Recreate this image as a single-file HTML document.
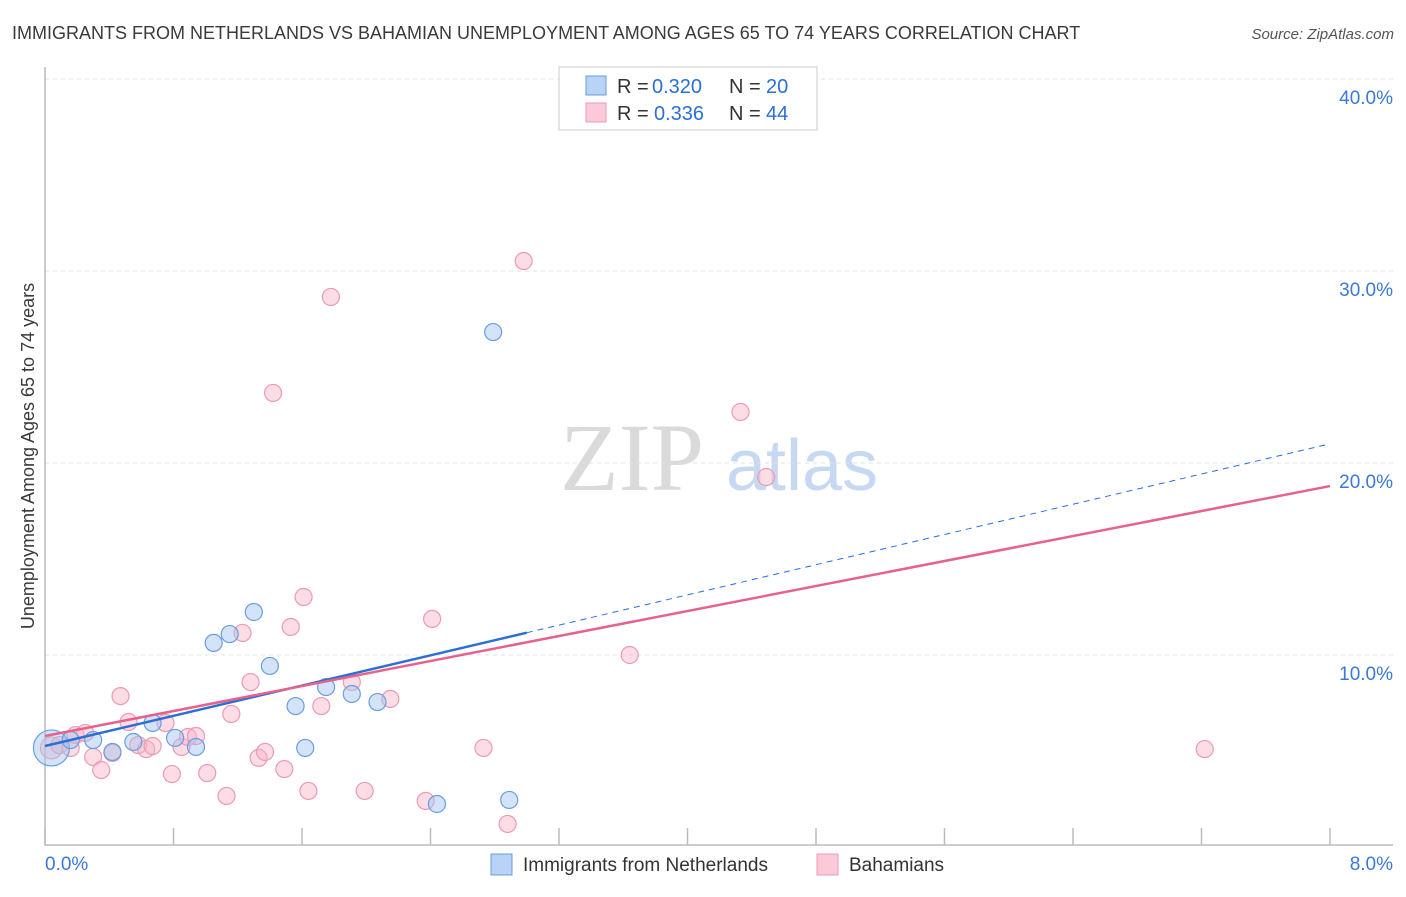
<!DOCTYPE html>
<html><head><meta charset="utf-8"><style>
body{margin:0;background:#fff;font-family:"Liberation Sans",sans-serif;}
svg text{font-family:"Liberation Sans",sans-serif;}
</style></head><body>
<svg id="chart" width="1406" height="892" xmlns="http://www.w3.org/2000/svg">
<text x="12" y="39" font-size="18" fill="#3a3a3a">IMMIGRANTS FROM NETHERLANDS VS BAHAMIAN UNEMPLOYMENT AMONG AGES 65 TO 74 YEARS CORRELATION CHART</text>
<text x="1394" y="39" font-size="15" fill="#555" text-anchor="end" font-style="italic">Source: ZipAtlas.com</text>
<g>
<text x="632" y="490" font-size="96" fill="#dadada" text-anchor="middle" style="font-family:'Liberation Serif',serif">ZIP</text>
<text x="802" y="490" font-size="72" fill="#c7d9f2" text-anchor="middle">atlas</text>
</g>
<g id="grid"></g>
<g id="axes"></g>
<g id="marks"></g>
<text transform="translate(34,456) rotate(-90)" font-size="18" fill="#3a3a3a" text-anchor="middle">Unemployment Among Ages 65 to 74 years</text>
<g>
<rect x="559" y="67" width="258" height="63" fill="#fff" stroke="#ccc"/>
<rect x="586" y="76" width="20" height="19" fill="#b8d3f5" stroke="#6a9de0"/>
<text x="617" y="93" font-size="20" fill="#333">R =</text>
<text x="652" y="93" font-size="20" fill="#2a6fd6">0.320</text>
<text x="729" y="93" font-size="20" fill="#333">N =</text>
<text x="766" y="93" font-size="20" fill="#2a6fd6">20</text>
<rect x="586" y="103" width="20" height="19" fill="#fbc9d7" stroke="#eb9ab5"/>
<text x="617" y="120" font-size="20" fill="#333">R =</text>
<text x="654" y="120" font-size="20" fill="#2a6fd6">0.336</text>
<text x="729" y="120" font-size="20" fill="#333">N =</text>
<text x="766" y="120" font-size="20" fill="#2a6fd6">44</text>
</g>
<g>
<rect x="491" y="854" width="21" height="21" fill="#b8d3f5" stroke="#6a9de0"/>
<text x="523" y="871" font-size="19" fill="#333">Immigrants from Netherlands</text>
<rect x="817" y="854" width="21" height="21" fill="#fbc9d7" stroke="#eb9ab5"/>
<text x="849" y="871" font-size="19" fill="#333">Bahamians</text>
</g>
</svg>
<script>
const xTicks=[0,0.8,1.6,2.4,3.2,4,4.8,5.6,6.4,7.2,8];
const yTicks=[10,20,30,40];
const xTickLabels=["0.0%","8.0%"];
const blueX=[0.04,0.16,0.30,0.42,0.55,0.67,0.81,0.94,1.05,1.15,1.30,1.40,1.56,1.62,1.75,1.91,2.07,2.44,2.79,2.89];
const blueY=[5.16,5.57,5.57,4.95,5.47,6.46,5.68,5.21,10.63,11.09,12.24,9.43,7.34,5.16,8.33,7.97,7.55,2.24,26.82,2.45];
const pinkX=[0.04,0.09,0.16,0.19,0.25,0.30,0.35,0.42,0.47,0.52,0.58,0.63,0.67,0.75,0.79,0.85,0.89,0.94,1.01,1.13,1.16,1.23,1.28,1.33,1.37,1.42,1.49,1.53,1.61,1.64,1.72,1.78,1.91,1.99,2.15,2.37,2.41,2.73,2.88,2.98,3.64,4.33,4.49,7.22];
const pinkY=[5.16,5.31,5.16,5.83,5.94,4.69,4.01,4.90,7.86,6.51,5.31,5.10,5.26,6.46,3.80,5.21,5.73,5.78,3.85,2.66,6.93,11.15,8.59,4.64,4.95,23.65,4.06,11.46,13.02,2.92,7.34,28.65,8.59,2.92,7.71,2.40,11.88,5.16,1.20,30.52,10.00,22.66,19.27,5.10];
const blueTrend=[5.26,21.0];
const pinkTrend=[5.78,18.8];
const blueSolidEnd=3.0;
const X=v=>45+v/8*1285, Y=v=>847-v*19.2;
const NS="http://www.w3.org/2000/svg";
function mk(parent,tag,attrs){const e=document.createElementNS(NS,tag);for(const k in attrs)e.setAttribute(k,attrs[k]);document.getElementById(parent).appendChild(e);return e;}
yTicks.forEach((t,i)=>{
 const g=mk('grid','line',{x1:45,x2:1393,y1:Y(t),y2:Y(t),stroke:'#e2e2e2','stroke-dasharray':'4,4'});
 
 
 const l=mk('grid','text',{x:1393,y:Y(t)+25,'font-size':19,fill:'#3b78d8','text-anchor':'end'});
 l.textContent=t.toFixed(1)+'%';
 
 
});
const ax=mk('axes','path',{d:'M45,67V845H1393',fill:'none',stroke:'#bbb','stroke-width':1.5});


xTicks.forEach(t=>{
 const tk=mk('axes','line',{x1:X(t),x2:X(t),y1:828,y2:845,stroke:'#bbb','stroke-width':1.5});
 
 
});
[[0,'start',45],[8,'end',1393]].forEach((p,i)=>{
 const l=mk('axes','text',{x:p[2],y:870,'font-size':19,fill:'#3b78d8','text-anchor':p[1]});
 l.textContent=xTickLabels[i];
 
 
});
pinkX.forEach((x,i)=>{
 const c=mk('marks','circle',{cx:X(x),cy:Y(pinkY[i]),r:i==0?11:8.5,fill:'rgba(248,180,200,0.45)',stroke:'#eb9ab5','stroke-width':1.2});
 
 
});
blueX.forEach((x,i)=>{
 const c=mk('marks','circle',{cx:X(x),cy:Y(blueY[i]),r:i==0?18:8.5,fill:'rgba(160,196,240,0.45)',stroke:'#6a9de0','stroke-width':1.2});
 
 
});
const by=v=>blueTrend[0]+(blueTrend[1]-blueTrend[0])*v/8;
const bs=mk('marks','line',{x1:X(0),y1:Y(by(0)),x2:X(blueSolidEnd),y2:Y(by(blueSolidEnd)),stroke:'#2a6fd6','stroke-width':2.5});


const bd=mk('marks','line',{x1:X(blueSolidEnd),y1:Y(by(blueSolidEnd)),x2:X(8),y2:Y(by(8)),stroke:'#2a6fd6','stroke-width':1,'stroke-dasharray':'6,5'});


const pl=mk('marks','line',{x1:X(0),y1:Y(pinkTrend[0]),x2:X(8),y2:Y(pinkTrend[1]),stroke:'#e8608c','stroke-width':2.5});


</script>
</body></html>
